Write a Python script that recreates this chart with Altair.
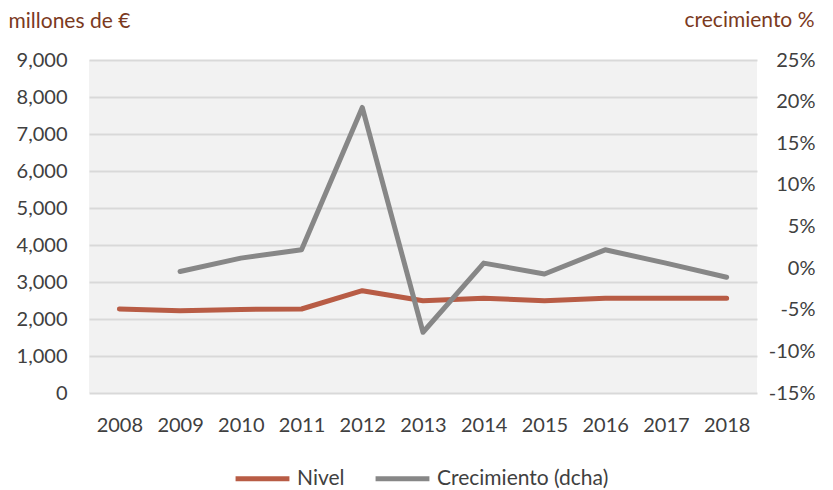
import altair as alt
import pandas as pd

years = ["2008", "2009", "2010", "2011", "2012", "2013", "2014", "2015", "2016", "2017", "2018"]
nivel = [2270, 2225, 2260, 2270, 2765, 2495, 2560, 2495, 2560, 2560, 2560]
crec = [None, -0.4, 1.2, 2.2, 19.3, -7.7, 0.6, -0.7, 2.2, 0.6, -1.1]

s_nivel = "Nivel"
s_crec = "Crecimiento (dcha)"

rows = []
for y, v in zip(years, nivel):
    rows.append({"year": y, "serie": s_nivel, "v": v})
for y, v in zip(years, crec):
    if v is not None:
        rows.append({"year": y, "serie": s_crec, "v": v / 100.0})
df = pd.DataFrame(rows)

FONT = "Lato"
LABEL_COLOR = "#404040"
TITLE_COLOR = "#7B3A1E"
LBL = 20

color = alt.Color(
    "serie:N",
    scale=alt.Scale(domain=[s_nivel, s_crec], range=["#B85C45", "#878787"]),
    legend=alt.Legend(
        title=None, orient="none", direction="horizontal",
        legendX=144, legendY=389, symbolType="stroke", symbolSize=2900,
        symbolStrokeWidth=5, labelFontSize=21, labelFont=FONT, labelColor=LABEL_COLOR,
        columnPadding=20, labelOffset=5, labelLimit=400,
    ),
)

x = alt.X(
    "year:O", sort=years, title=None,
    scale=alt.Scale(paddingOuter=0.5, paddingInner=0),
    axis=alt.Axis(labelAngle=0, domain=False, ticks=False, labelPadding=22,
                  labelFontSize=LBL, labelFont=FONT, labelColor=LABEL_COLOR),
)

base = alt.Chart(df)

left = base.transform_filter(alt.datum.serie == s_nivel).mark_line(
    strokeWidth=5, strokeCap="round", strokeJoin="round"
).encode(
    x=x,
    y=alt.Y("v:Q", scale=alt.Scale(domain=[0, 9000], nice=False),
            axis=alt.Axis(values=list(range(0, 9001, 1000)), format=",d", domain=False, ticks=False,
                          grid=True, gridColor="#D9D9D9", gridWidth=2,
                          labelPadding=22, labelFontSize=LBL, labelFont=FONT, labelColor=LABEL_COLOR,
                          title="millones de €", titleAngle=0, titleAlign="left", titleBaseline="middle",
                          titleX=-81, titleY=-39, titleFont=FONT, titleFontSize=21,
                          titleFontWeight="normal", titleColor=TITLE_COLOR)),
    color=color,
)

right = base.transform_filter(alt.datum.serie == s_crec).mark_line(
    strokeWidth=5, strokeCap="round", strokeJoin="round"
).encode(
    x=x,
    y=alt.Y("v:Q", scale=alt.Scale(domain=[-0.15, 0.25], nice=False),
            axis=alt.Axis(orient="right", values=[-0.15, -0.10, -0.05, 0, 0.05, 0.10, 0.15, 0.20, 0.25],
                          format=".0%", labelExpr="replace(datum.label, '\u2212', '-')",
                          domain=False, ticks=False, grid=False, labelAlign="right",
                          labelPadding=58, labelFontSize=LBL, labelFont=FONT, labelColor=LABEL_COLOR,
                          title="crecimiento %", titleAngle=0, titleAlign="right", titleBaseline="middle",
                          titleX=57, titleY=-40, titleFont=FONT, titleFontSize=21,
                          titleFontWeight="normal", titleColor=TITLE_COLOR)),
    color=color,
)

chart = alt.layer(left, right).resolve_scale(y="independent").properties(
    width=668, height=333,
    autosize=alt.AutoSizeParams(type="none"),
    padding={"left": 81, "top": 52, "right": 68, "bottom": 100},
    background="white",
).configure_view(fill="#F2F2F2", stroke=None)

chart.save("out.html", embed_options={"renderer": "svg", "actions": False})
